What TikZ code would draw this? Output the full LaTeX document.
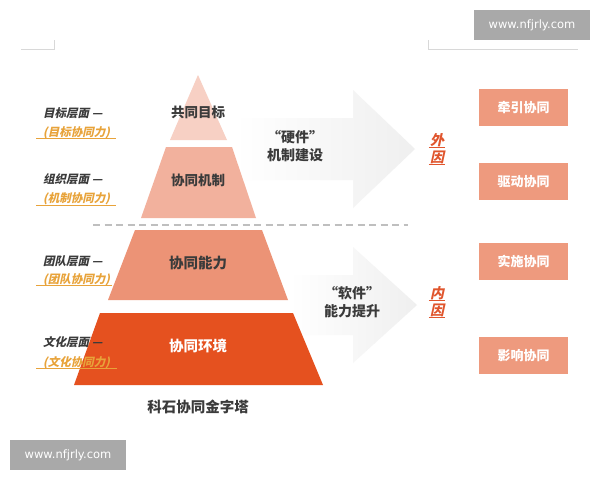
\documentclass[tikz,border=0pt]{standalone}
\usepackage{fontspec}
\setmainfont{Noto Sans CJK SC}
\newfontfamily\cjkit{Noto Sans CJK SC}[FakeSlant=0.22]
\newfontfamily\webfont{DejaVu Sans}
\usetikzlibrary{calc}
\definecolor{layerA}{HTML}{F7D0C4}
\definecolor{layerB}{HTML}{F2B19D}
\definecolor{layerC}{HTML}{EC9376}
\definecolor{layerD}{HTML}{E5511F}
\definecolor{boxfill}{HTML}{EE9A7E}
\definecolor{goldtext}{HTML}{E8A33A}
\definecolor{causetext}{HTML}{E0552D}
\definecolor{darktext}{HTML}{3B3B3B}
\definecolor{markline}{HTML}{D8D8D8}
\definecolor{arrowgray}{HTML}{EFEFEF}
\definecolor{webgray}{HTML}{A9A9A9}
\tikzset{
	layertext/.style={inner sep=0pt, text=darktext, font=\bfseries\fontsize{13.5}{13.5}\selectfont},
	leveltext/.style={anchor=west, inner sep=0pt, text=darktext, font=\cjkit\bfseries\fontsize{11.5}{11.5}\selectfont},
	powertext/.style={anchor=west, inner sep=0pt, text=goldtext, font=\cjkit\bfseries\fontsize{11.5}{11.5}\selectfont},
	arrowtext/.style={inner sep=0pt, align=center, text=darktext, font=\bfseries\fontsize{14}{18}\selectfont},
	causechar/.style={inner sep=0pt, text=causetext, font=\cjkit\bfseries\fontsize{14}{14}\selectfont},
	goalbox/.style={fill=boxfill, inner sep=0pt, minimum width=89pt, minimum height=37pt, text=white, font=\bfseries\fontsize{13}{13}\selectfont},
	webbox/.style={fill=webgray, inner sep=0pt, minimum width=116pt, minimum height=30pt, text=white, font=\webfont\fontsize{11.5}{11.5}\selectfont}
}
\begin{document}
\begin{tikzpicture}[x=1pt, y=-1pt]
			%%%%% START %%%%%
			\useasboundingbox[fill=white] (0, 0) rectangle (600, 480);
			
			\draw[line width=1pt, color=markline] (21, 49) -- (54, 49) -- (54, 40);
			\draw[line width=1pt, color=markline] (428, 40) -- (428, 49) -- (578, 49);
			
			\shade[left color=white, right color=arrowgray] (235, 118) -- (353, 118) -- (353, 90) -- (415, 149) -- (353, 208) -- (353, 180) -- (235, 180) -- cycle;
			\shade[left color=white, right color=arrowgray] (290, 275) -- (353, 275) -- (353, 247) -- (417, 305) -- (353, 363) -- (353, 335) -- (290, 335) -- cycle;
			
			\fill[layerA] (198, 75) -- (227, 140) -- (170, 140) -- cycle;
			\fill[layerB] (166, 147) -- (232, 147) -- (256, 218) -- (141, 218) -- cycle;
			\fill[layerC] (135, 230) -- (262, 230) -- (288, 300) -- (108, 300) -- cycle;
			\fill[layerD] (100, 313) -- (293, 313) -- (323, 385) -- (74, 385) -- cycle;
			
			\draw[line width=1.2pt, color=black!25, dash pattern=on 7pt off 4.5pt] (93, 225) -- (408, 225);
			
			\node[layertext] (goal) at (198, 112) {共同目标};
			\node[layertext] (mechanism) at (198, 180) {协同机制};
			\node[layertext, font=\bfseries\fontsize{14.5}{14.5}\selectfont] (ability) at (198, 263) {协同能力};
			\node[layertext, text=white, font=\bfseries\fontsize{14.5}{14.5}\selectfont] (climate) at (198, 346) {协同环境};
			\node[inner sep=0pt, text=darktext, font=\bfseries\fontsize{14.5}{14.5}\selectfont] (caption) at (198, 407) {科石协同金字塔};
			
			\node[leveltext] (lvlGoal) at (43, 113) {目标层面 —};
			\node[powertext] (powGoal) at (43, 133) {(目标协同力)};
			\draw[line width=0.8pt, color=goldtext] (36, 138.5) -- (116, 138.5);
			\node[leveltext] (lvlOrg) at (43, 179) {组织层面 —};
			\node[powertext] (powOrg) at (43, 199) {(机制协同力)};
			\draw[line width=0.8pt, color=goldtext] (36, 205) -- (116, 205);
			\node[leveltext] (lvlTeam) at (43, 261) {团队层面 —};
			\node[powertext] (powTeam) at (43, 280) {(团队协同力)};
			\draw[line width=0.8pt, color=goldtext] (36, 285.5) -- (112, 285.5);
			\node[leveltext] (lvlCulture) at (43, 342) {文化层面 —};
			\node[powertext] (powCulture) at (43, 363) {(文化协同力)};
			\draw[line width=0.8pt, color=goldtext] (36, 368.5) -- (117, 368.5);
			
			\node[arrowtext] (hardware) at (295, 146) {“硬件”\\机制建设};
			\node[arrowtext] (software) at (352, 302.5) {“软件”\\能力提升};
			
			\node[causechar] (outerA) at (437, 140) {外};
			\node[causechar] (outerB) at (437, 157) {因};
			\node[causechar] (innerA) at (437, 293) {内};
			\node[causechar] (innerB) at (437, 310) {因};
			\foreach \c in {outerA, outerB, innerA, innerB}
				\draw[line width=0.8pt, color=causetext] ($(\c.south west)+(-1, 1)$) -- ($(\c.south east)+(1, 1)$);
			
			\node[goalbox] (pull) at (523.5, 107.5) {牵引协同};
			\node[goalbox] (drive) at (523.5, 181.5) {驱动协同};
			\node[goalbox] (execute) at (523.5, 261) {实施协同};
			\node[goalbox] (influence) at (523.5, 355.5) {影响协同};
			
			\node[webbox] (webTop) at (532, 25) {www.nfjrly.com};
			\node[webbox] (webBottom) at (68, 455) {www.nfjrly.com};
			
			%%%%% END %%%%%
\end{tikzpicture}
\end{document}
